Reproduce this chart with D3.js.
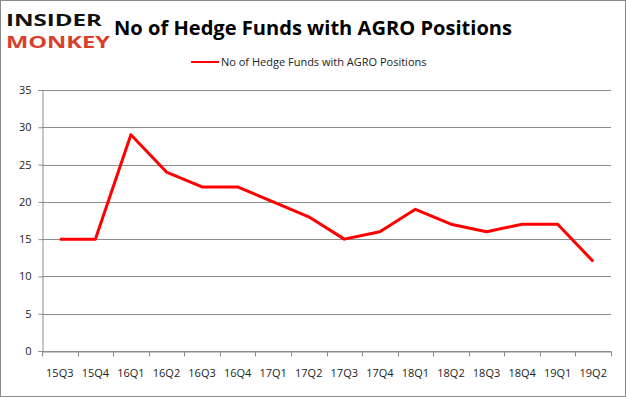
<!DOCTYPE html>
<html>
<head>
<meta charset="utf-8">
<script src="https://cdn.jsdelivr.net/npm/d3@7"></script>
<style>
  body { margin: 0; background: #fff; }
  svg text { font-family: "Open Sans", "Liberation Sans", sans-serif; }
</style>
</head>
<body>
<div id="chart"></div>
<script>
var quarters = ["15Q3","15Q4","16Q1","16Q2","16Q3","16Q4","17Q1","17Q2","17Q3","17Q4","18Q1","18Q2","18Q3","18Q4","19Q1","19Q2"];
var funds = [15,15,29,24,22,22,20,18,15,16,19,17,16,17,17,12];
var yTicks = [0,5,10,15,20,25,30,35];
var seriesName = "No of Hedge Funds with AGRO Positions";

var W = 626, H = 397;
var margin = {top: 90, right: 15, bottom: 46, left: 42};
var width = W - margin.left - margin.right;
var height = H - margin.top - margin.bottom;

var svg = d3.select("#chart").append("svg")
  .attr("width", W).attr("height", H);

// outer frame
svg.append("rect").attr("x", 0.5).attr("y", 0.5)
  .attr("width", W - 1).attr("height", H - 1)
  .attr("fill", "#fff").attr("stroke", "#8a8a8a");

// logo
svg.append("text").attr("x", 6).attr("y", 26)
  .attr("font-family", "DejaVu Sans").attr("font-weight", "bold")
  .attr("font-size", 16).attr("textLength", 96).attr("lengthAdjust", "spacingAndGlyphs")
  .attr("fill", "#111").text("INSIDER");
svg.append("text").attr("x", 6).attr("y", 48)
  .attr("font-family", "DejaVu Sans").attr("font-weight", "bold")
  .attr("font-size", 16).attr("textLength", 104).attr("lengthAdjust", "spacingAndGlyphs")
  .attr("fill", "#d9402b").text("MONKEY");

// title
svg.append("text").attr("x", 114).attr("y", 35)
  .attr("font-family", "Open Sans").attr("font-weight", "bold")
  .attr("font-size", 20).attr("textLength", 398).attr("lengthAdjust", "spacingAndGlyphs")
  .attr("fill", "#000").text(seriesName);

// legend
svg.append("line").attr("x1", 191).attr("x2", 219).attr("y1", 62).attr("y2", 62)
  .attr("stroke", "#ff0000").attr("stroke-width", 2);
svg.append("text").attr("x", 221).attr("y", 66)
  .attr("font-size", 11).attr("fill", "#222").text(seriesName);

var g = svg.append("g").attr("transform", "translate(" + margin.left + "," + margin.top + ")");

var x = d3.scaleBand().domain(quarters).range([0, width]);
var y = d3.scaleLinear().domain([0, 35]).range([height, 0]);

// gridlines
g.selectAll(".grid").data(yTicks).enter().append("line")
  .attr("x1", 0).attr("x2", width)
  .attr("y1", function(d){ return Math.round(y(d)) + 0.5; })
  .attr("y2", function(d){ return Math.round(y(d)) + 0.5; })
  .attr("stroke", "#8c8c8c");

// y axis
var yAxis = g.append("g").attr("transform", "translate(0.5,0)")
  .call(d3.axisLeft(y).tickValues(yTicks).tickSize(4).tickPadding(7));
yAxis.select(".domain").attr("stroke", "#8c8c8c");
yAxis.selectAll(".tick line").attr("stroke", "#8c8c8c");
yAxis.selectAll("text").attr("font-size", 11).attr("fill", "#222")
  .attr("font-family", "Open Sans");

// x axis
var xAxis = g.append("g").attr("transform", "translate(0," + (Math.round(height) + 0.5) + ")")
  .call(d3.axisBottom(x).tickSize(0).tickPadding(18));
xAxis.select(".domain").attr("stroke", "#8c8c8c");
xAxis.selectAll("text").attr("font-size", 11).attr("fill", "#222")
  .attr("font-family", "Open Sans");
// boundary ticks between categories
var bounds = quarters.map(function(q){ return x(q); }).concat([width]);
xAxis.selectAll(".bound").data(bounds).enter().append("line")
  .attr("x1", function(d){ return Math.round(d) + 0.5; })
  .attr("x2", function(d){ return Math.round(d) + 0.5; })
  .attr("y1", 0).attr("y2", 5).attr("stroke", "#8c8c8c");

// series line
var line = d3.line()
  .x(function(d, i){ return x(quarters[i]) + x.bandwidth() / 2; })
  .y(function(d){ return y(d); });
g.append("path").datum(funds)
  .attr("d", line).attr("fill", "none")
  .attr("stroke", "#ff0000").attr("stroke-width", 3)
  .attr("stroke-linejoin", "round");
</script>
</body>
</html>
